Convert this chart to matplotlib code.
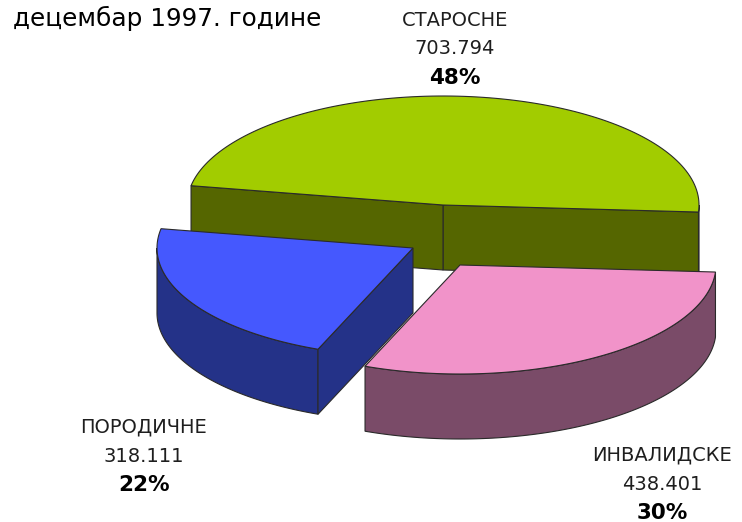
import numpy as np
import matplotlib
matplotlib.use("Agg")
import matplotlib.pyplot as plt
from matplotlib.patches import Polygon

# ---- data ----
title = "децембар 1997. године"
categories = ["СТАРОСНЕ", "ИНВАЛИДСКЕ", "ПОРОДИЧНЕ"]
values = [703794, 438401, 318111]

# ---- style ----
top_colors = ["#a2cc00", "#f193c9", "#4558fe"]
side_colors = ["#556600", "#7a4b68", "#243288"]
explode_px = [(0, 0), (17, 60), (-30, 43)]
label_pos = [(455, 20), (662, 455), (144, 427)]
cx, cy, rx, ry, depth = 443, 205, 256, 109, 65
start_angle = -3.7  # start of first slice (deg), slices go clockwise from here

fig = plt.figure(figsize=(7.42, 5.22), dpi=100)
ax = fig.add_axes([0, 0, 1, 1])
ax.set_xlim(0, 742)
ax.set_ylim(522, 0)
ax.axis("off")

total = sum(values)
fracs = [v / total for v in values]
ranges = []
ranges.append((start_angle, start_angle + 360 * fracs[0]))
acc = start_angle
for f in fracs[1:]:
    ranges.append((acc - 360 * f, acc))
    acc -= 360 * f


def pt(ox, oy, t, dz=0):
    r = np.radians(t)
    return ox + rx * np.cos(r), oy - ry * np.sin(r) + dz


def arc(ox, oy, t1, t2, dz=0, n=120):
    ts = np.linspace(t1, t2, n)
    r = np.radians(ts)
    return np.column_stack([ox + rx * np.cos(r), oy - ry * np.sin(r) + dz])


ec = "#2a2a2a"
lw = 0.8
draw_order = [0, 2, 1]
for i in draw_order:
    t1, t2 = ranges[i]
    ox, oy = cx + explode_px[i][0], cy + explode_px[i][1]
    for lo, hi in [(-180, 0), (180, 360), (-540, -360)]:
        a, b = max(t1, lo), min(t2, hi)
        if a < b:
            topa = arc(ox, oy, a, b)
            bota = arc(ox, oy, a, b, depth)[::-1]
            ax.add_patch(Polygon(np.vstack([topa, bota]), closed=True,
                                 facecolor=side_colors[i], edgecolor=ec, lw=lw, zorder=i))
    for t, vis in [(t1, np.cos(np.radians(t1)) > 0), (t2, np.cos(np.radians(t2)) < 0)]:
        if vis:
            px, py = pt(ox, oy, t)
            poly = [(ox, oy), (px, py), (px, py + depth), (ox, oy + depth)]
            ax.add_patch(Polygon(poly, closed=True, facecolor=side_colors[i],
                                 edgecolor=ec, lw=lw, zorder=i))
    topface = np.vstack([[ox, oy], arc(ox, oy, t1, t2)])
    ax.add_patch(Polygon(topface, closed=True, facecolor=top_colors[i],
                         edgecolor=ec, lw=lw, zorder=i + 0.5))

ax.text(13, 18, title, fontsize=17.8, ha="left", va="center", color="#000000")

for i, (lx, ly) in enumerate(label_pos):
    vtxt = f"{values[i]:,}".replace(",", ".")
    ptxt = f"{round(100 * fracs[i])}%"
    ax.text(lx, ly, categories[i], fontsize=14, ha="center", va="center", color="#1e1e1e")
    ax.text(lx, ly + 29, vtxt, fontsize=14, ha="center", va="center", color="#1e1e1e")
    ax.text(lx, ly + 58, ptxt, fontsize=15.5, fontweight="bold", ha="center", va="center", color="#000000")

fig.savefig("out.png", dpi=100)
